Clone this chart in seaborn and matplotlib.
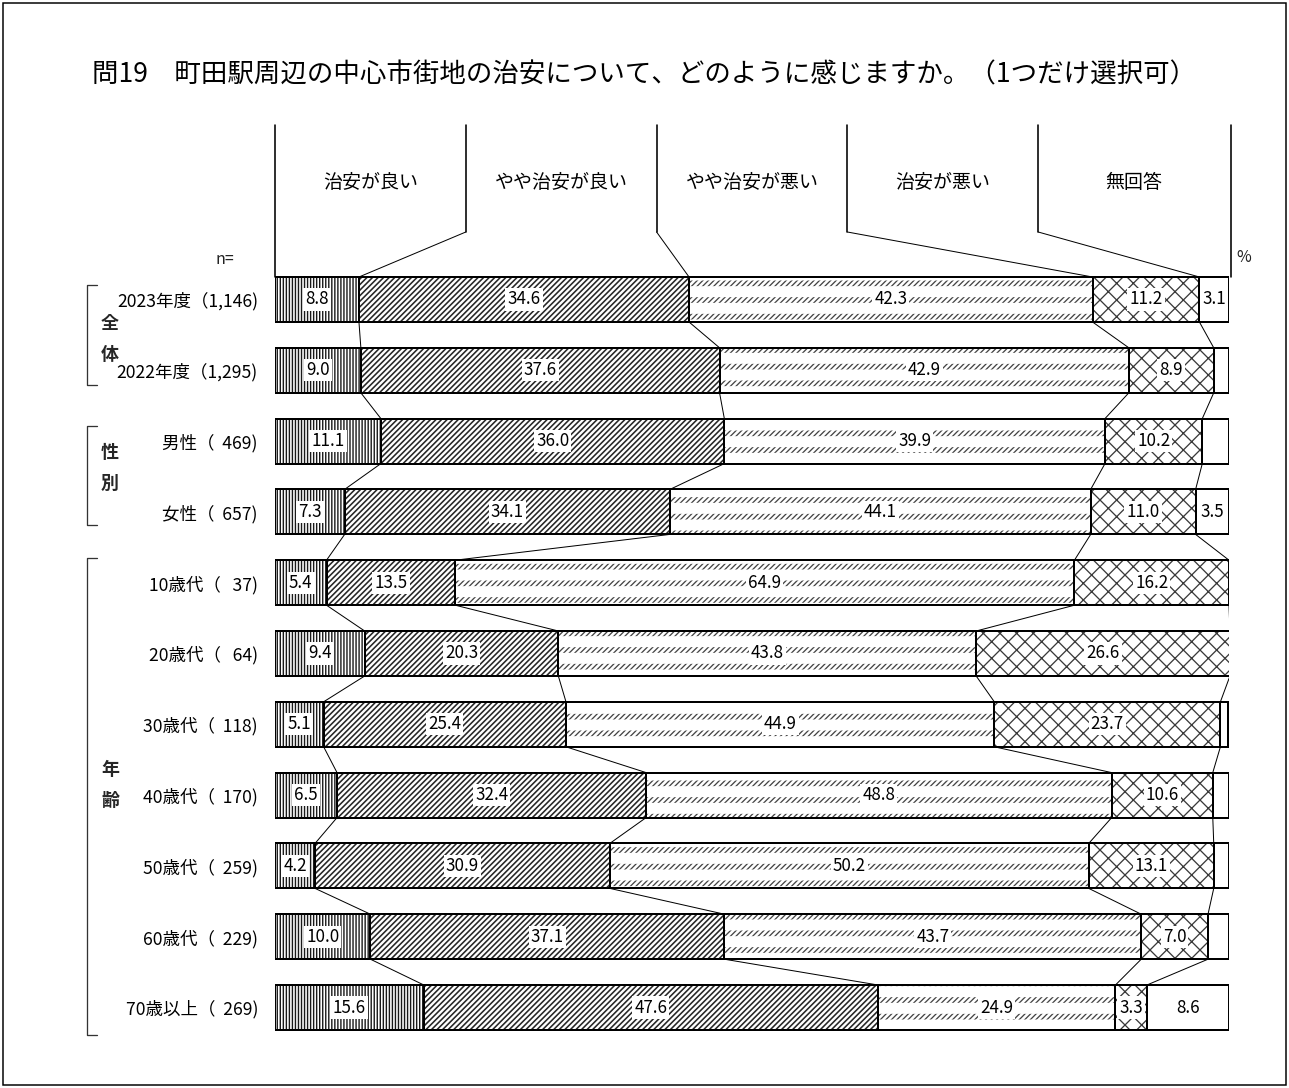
import numpy as np
import pandas as pd
import matplotlib
matplotlib.use("Agg")
import matplotlib.pyplot as plt
import seaborn as sns
from matplotlib.lines import Line2D
from matplotlib.patches import Rectangle

# ---------------- data ----------------
title = "問19　町田駅周辺の中心市街地の治安について、どのように感じますか。（1つだけ選択可）"
categories = ["治安が良い", "やや治安が良い", "やや治安が悪い", "治安が悪い", "無回答"]
row_labels = ["2023年度（1,146)", "2022年度（1,295)", "男性（  469)", "女性（  657)",
              "10歳代（   37)", "20歳代（   64)", "30歳代（  118)", "40歳代（  170)",
              "50歳代（  259)", "60歳代（  229)", "70歳以上（  269)"]
good        = [8.8, 9.0, 11.1, 7.3, 5.4, 9.4, 5.1, 6.5, 4.2, 10.0, 15.6]
rather_good = [34.6, 37.6, 36.0, 34.1, 13.5, 20.3, 25.4, 32.4, 30.9, 37.1, 47.6]
rather_bad  = [42.3, 42.9, 39.9, 44.1, 64.9, 43.8, 44.9, 48.8, 50.2, 43.7, 24.9]
bad         = [11.2, 8.9, 10.2, 11.0, 16.2, 26.6, 23.7, 10.6, 13.1, 7.0, 3.3]
no_answer   = [3.1, 1.6, 2.8, 3.5, 0.0, 0.0, 0.8, 1.7, 1.6, 2.2, 8.6]
groups = [("全", "体"), ("性", "別"), ("年", "齢")]

# ---------------- setup ----------------
DPI = 200
W, H = 1289, 1088


def pt(px):
    return px * 72.0 / DPI


def fx(x):
    return x / W


def fy(y):
    return 1 - y / H


sns.set_theme(style="white")
plt.rcParams["font.family"] = ["Noto Sans CJK JP", "DejaVu Sans"]
plt.rcParams["hatch.linewidth"] = pt(1.3)

fig = plt.figure(figsize=(W / DPI, H / DPI), dpi=DPI)
fig.patch.set_facecolor("white")

AX_L, AX_R = 275, 1229
ROW0, STEP = 299.5, 70.8
n = len(row_labels)
ax_top = ROW0 - 0.5 * STEP
ax_bot = ROW0 + (n - 0.5) * STEP
ax = fig.add_axes([fx(AX_L), 1 - ax_bot / H, (AX_R - AX_L) / W, (ax_bot - ax_top) / H])
ax.set_facecolor("none")

BAR_H = 45 / STEP

vals = np.array([good, rather_good, rather_bad, bad, no_answer]).T
cum = np.cumsum(vals, axis=1)


def layer(k, face, hatch, hcolor, hlw, lw=0.0, ecolor=None):
    before = len(ax.patches)
    sns.barplot(x=cum[:, k], y=row_labels, orient="y", width=BAR_H,
                errorbar=None, color="white", ax=ax)
    for p in ax.patches[before:]:
        p.set_facecolor(face)
        p.set_edgecolor(ecolor if ecolor is not None else hcolor)
        p.set_linewidth(lw)
        p.set_hatch(hatch)
        if hasattr(p, "set_hatch_linewidth"):
            p.set_hatch_linewidth(pt(hlw))


# fills (widest first, narrower cumulative bars cover them)
layer(4, "white", None, "white", 1.0)
layer(3, "white", "xxxx", "#3a3a3a", 1.3)
layer(2, "white", "/" * 12, "#444444", 1.3)
layer(2, "none", "--", "white", 11.0)
layer(1, "white", "/" * 12, "#262626", 1.6)
layer(0, "white", "|" * 11, "#1a1a1a", 1.4)

# outlines
for k in range(4, -1, -1):
    before = len(ax.patches)
    sns.barplot(x=cum[:, k], y=row_labels, orient="y", width=BAR_H,
                errorbar=None, color="white", ax=ax)
    for p in ax.patches[before:]:
        p.set_facecolor("none")
        p.set_edgecolor("black")
        p.set_linewidth(pt(2.0))
        p.set_hatch(None)

# connector lines between rows
for i in range(n - 1):
    for k in range(4):
        ax.plot([cum[i, k], cum[i + 1, k]], [i + BAR_H / 2, i + 1 - BAR_H / 2],
                color="black", lw=pt(1.0), zorder=3)

# value labels
for i in range(n):
    for k in range(5):
        v = vals[i, k]
        if v >= 3.0:
            xc = cum[i, k] - v / 2
            ax.text(xc, i, f"{v:.1f}", ha="center", va="center", fontsize=pt(17),
                    color="black", zorder=5,
                    bbox=dict(boxstyle="square,pad=0.12", fc="white", ec="none"))

ax.set_xlim(0, 100)
ax.set_ylim(n - 0.5, -0.5)
ax.set_xlabel("")
ax.set_ylabel("")
for s in ax.spines.values():
    s.set_visible(False)
ax.tick_params(axis="x", bottom=False, labelbottom=False)
ax.tick_params(axis="y", left=False, length=0, pad=pt(17), labelsize=pt(17.5), colors="black")
ax.grid(False)

# ---------------- header ----------------
def ydat(py):
    return (py - ax_top) / STEP - 0.5


y_top = ydat(125)
y_mid = ydat(232)
y_txt = ydat(183)
bar_top = -BAR_H / 2
hl = dict(color="black", lw=pt(1.6), clip_on=False, zorder=4)
ax.plot([0, 0], [y_top, bar_top], **hl)
ax.plot([100.2, 100.2], [y_top, bar_top], **hl)
for k in range(1, 5):
    xk = 20 * k
    ax.plot([xk, xk], [y_top, y_mid], **hl)
    ax.plot([xk, cum[0, k - 1]], [y_mid, bar_top], color="black", lw=pt(1.0), clip_on=False)
for k, c in enumerate(categories):
    ax.text(20 * k + 10, y_txt, c, ha="center", va="center", fontsize=pt(19), color="black")

ax.text((225 - AX_L) / 9.54, ydat(260), "n=", ha="center", va="center", fontsize=pt(16), color="#222222")
ax.text((1244 - AX_L) / 9.54, ydat(258), "%", ha="center", va="center", fontsize=pt(16), color="#222222",
        clip_on=False)

# ---------------- group labels & brackets ----------------
brackets = [(285, 385, 324, 355), (426, 525, 453, 484), (558, 1035, 770, 801)]
for (top, bot, y1, y2), (c1, c2) in zip(brackets, groups):
    fig.add_artist(Line2D([fx(97), fx(87), fx(87), fx(97)], [fy(top), fy(top), fy(bot), fy(bot)],
                          transform=fig.transFigure, color="#333333", lw=pt(1.3)))
    fig.text(fx(110), fy(y1), c1, ha="center", va="center", fontsize=pt(18), fontweight="bold")
    fig.text(fx(110), fy(y2), c2, ha="center", va="center", fontsize=pt(18), fontweight="bold")

# title and frame
fig.text(0.5, fy(75), title, ha="center", va="center", fontsize=pt(26.5), color="black")
fig.add_artist(Rectangle((fx(3), fy(1085)), (1283) / W, (1082) / H, transform=fig.transFigure,
                         fill=False, ec="black", lw=pt(1.5)))

fig.savefig("out.png", dpi=DPI)
